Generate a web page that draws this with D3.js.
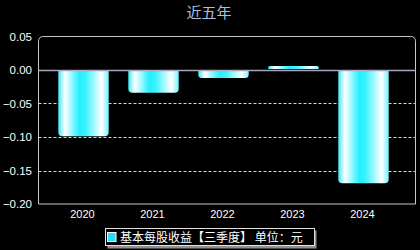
<!DOCTYPE html>
<html><head><meta charset="utf-8">
<script src="https://cdn.jsdelivr.net/npm/d3@7/dist/d3.min.js"></script>
<style>html,body{margin:0;padding:0;background:#000;}svg{display:block;}</style>
</head><body>
<script>
const categories = ["2020","2021","2022","2023","2024"];
const values = [-0.099, -0.034, -0.012, 0.006, -0.169];
const yTicks = [0.05, 0.00, -0.05, -0.10, -0.15, -0.20];
const gridTicks = [-0.05, -0.10, -0.15];
const title = "近五年";
const legendLabel = "基本每股收益【三季度】 单位：元";

(function () {
const W = 420, H = 250;
const pLeft = 38.5, pRight = 415.5, pTop = 36.5, pBottom = 204;
const svg = d3.select("body").append("svg").attr("width", W).attr("height", H)
  .style("font-family", "'Liberation Sans', Arial, sans-serif");
svg.append("rect").attr("width", W).attr("height", H).attr("fill", "#000");

const y = d3.scaleLinear().domain([-0.20, 0.05]).range([pBottom, pTop]);
const x = d3.scaleBand().domain(categories).range([48.5, 398.5]).paddingInner(0.28).paddingOuter(0.14);

const defs = svg.append("defs");
const g = defs.append("linearGradient").attr("id", "bg").attr("x1", 0).attr("x2", 1).attr("y1", 0).attr("y2", 0);
[[0, "#3ee8f4"], [0.13, "#ffffff"], [0.42, "#22f0ff"], [0.55, "#40f2ff"], [0.86, "#ffffff"], [1, "#70f4ff"]]
  .forEach(([o, c]) => g.append("stop").attr("offset", o).attr("stop-color", c));

svg.append("text").attr("x", 209).attr("y", 18).attr("text-anchor", "middle")
  .attr("fill", "#a8c0e0").attr("font-size", 15).attr("font-family", "'Noto Sans CJK SC', sans-serif").text(title);

svg.selectAll("line.grid").data(gridTicks).enter().append("line")
  .attr("x1", pLeft).attr("x2", pRight).attr("y1", d => Math.round(y(d)) + 0.5).attr("y2", d => Math.round(y(d)) + 0.5)
  .attr("stroke", "#c8d8e8").attr("stroke-width", 1).attr("stroke-dasharray", "3,2");

const r = 5;
svg.append("path")
  .attr("d", `M${pLeft},${pBottom} L${pLeft},${pTop + r} Q${pLeft},${pTop} ${pLeft + r},${pTop} L${pRight - r},${pTop} Q${pRight},${pTop} ${pRight},${pTop + r} L${pRight},${pBottom} Z`)
  .attr("fill", "none").attr("stroke", "#c8c8c8").attr("stroke-width", 1);

const rr = 4;
function barPath(d, i) {
  const x0 = x(categories[i]), w = x.bandwidth();
  const y1 = y(d);
  if (d < 0) {
    const y0 = y(0) + 1, h = y1 - y0, rad = Math.min(rr, h / 2, w / 2);
    return `M${x0},${y0} L${x0 + w},${y0} L${x0 + w},${y1 - rad} Q${x0 + w},${y1} ${x0 + w - rad},${y1} L${x0 + rad},${y1} Q${x0},${y1} ${x0},${y1 - rad} Z`;
  } else {
    const yb = y(0) - 1, h = yb - y1, rad = Math.min(rr, h / 2, w / 2);
    return `M${x0},${yb} L${x0},${y1 + rad} Q${x0},${y1} ${x0 + rad},${y1} L${x0 + w - rad},${y1} Q${x0 + w},${y1} ${x0 + w},${y1 + rad} L${x0 + w},${yb} Z`;
  }
}
svg.selectAll("path.bar").data(values).enter().append("path")
  .attr("d", barPath).attr("fill", "url(#bg)");

svg.append("line").attr("x1", pLeft).attr("x2", pRight)
  .attr("y1", Math.round(y(0)) + 0.5).attr("y2", Math.round(y(0)) + 0.5)
  .attr("stroke", "#a8a8b8").attr("stroke-width", 1.5);

svg.selectAll("text.yl").data(yTicks).enter().append("text")
  .attr("x", 32).attr("y", d => y(d) + 4).attr("text-anchor", "end")
  .attr("fill", "#fff").attr("font-size", 11.5).text(d => d3.format(".2f")(d));

svg.selectAll("text.xl").data(categories).enter().append("text")
  .attr("x", d => x(d) + x.bandwidth() / 2 - 1).attr("y", 218).attr("text-anchor", "middle")
  .attr("fill", "#fff").attr("font-size", 11).text(d => d);

const lg = svg.append("g");
lg.append("rect").attr("x", 107.5).attr("y", 230.5).attr("width", 209).attr("height", 18).attr("fill", "#909090");
lg.append("rect").attr("x", 105.5).attr("y", 228.5).attr("width", 209).attr("height", 17).attr("fill", "#000").attr("stroke", "#e0e0e0");
lg.append("rect").attr("x", 107.5).attr("y", 232.5).attr("width", 8.5).attr("height", 9).attr("fill", "#22e0f8").attr("stroke", "#fff");
lg.append("text").attr("x", 120).attr("y", 242).attr("fill", "#fff").attr("font-size", 12)
  .attr("font-family", "'Noto Sans CJK SC', sans-serif").text(legendLabel);
})();
</script>
</body></html>
